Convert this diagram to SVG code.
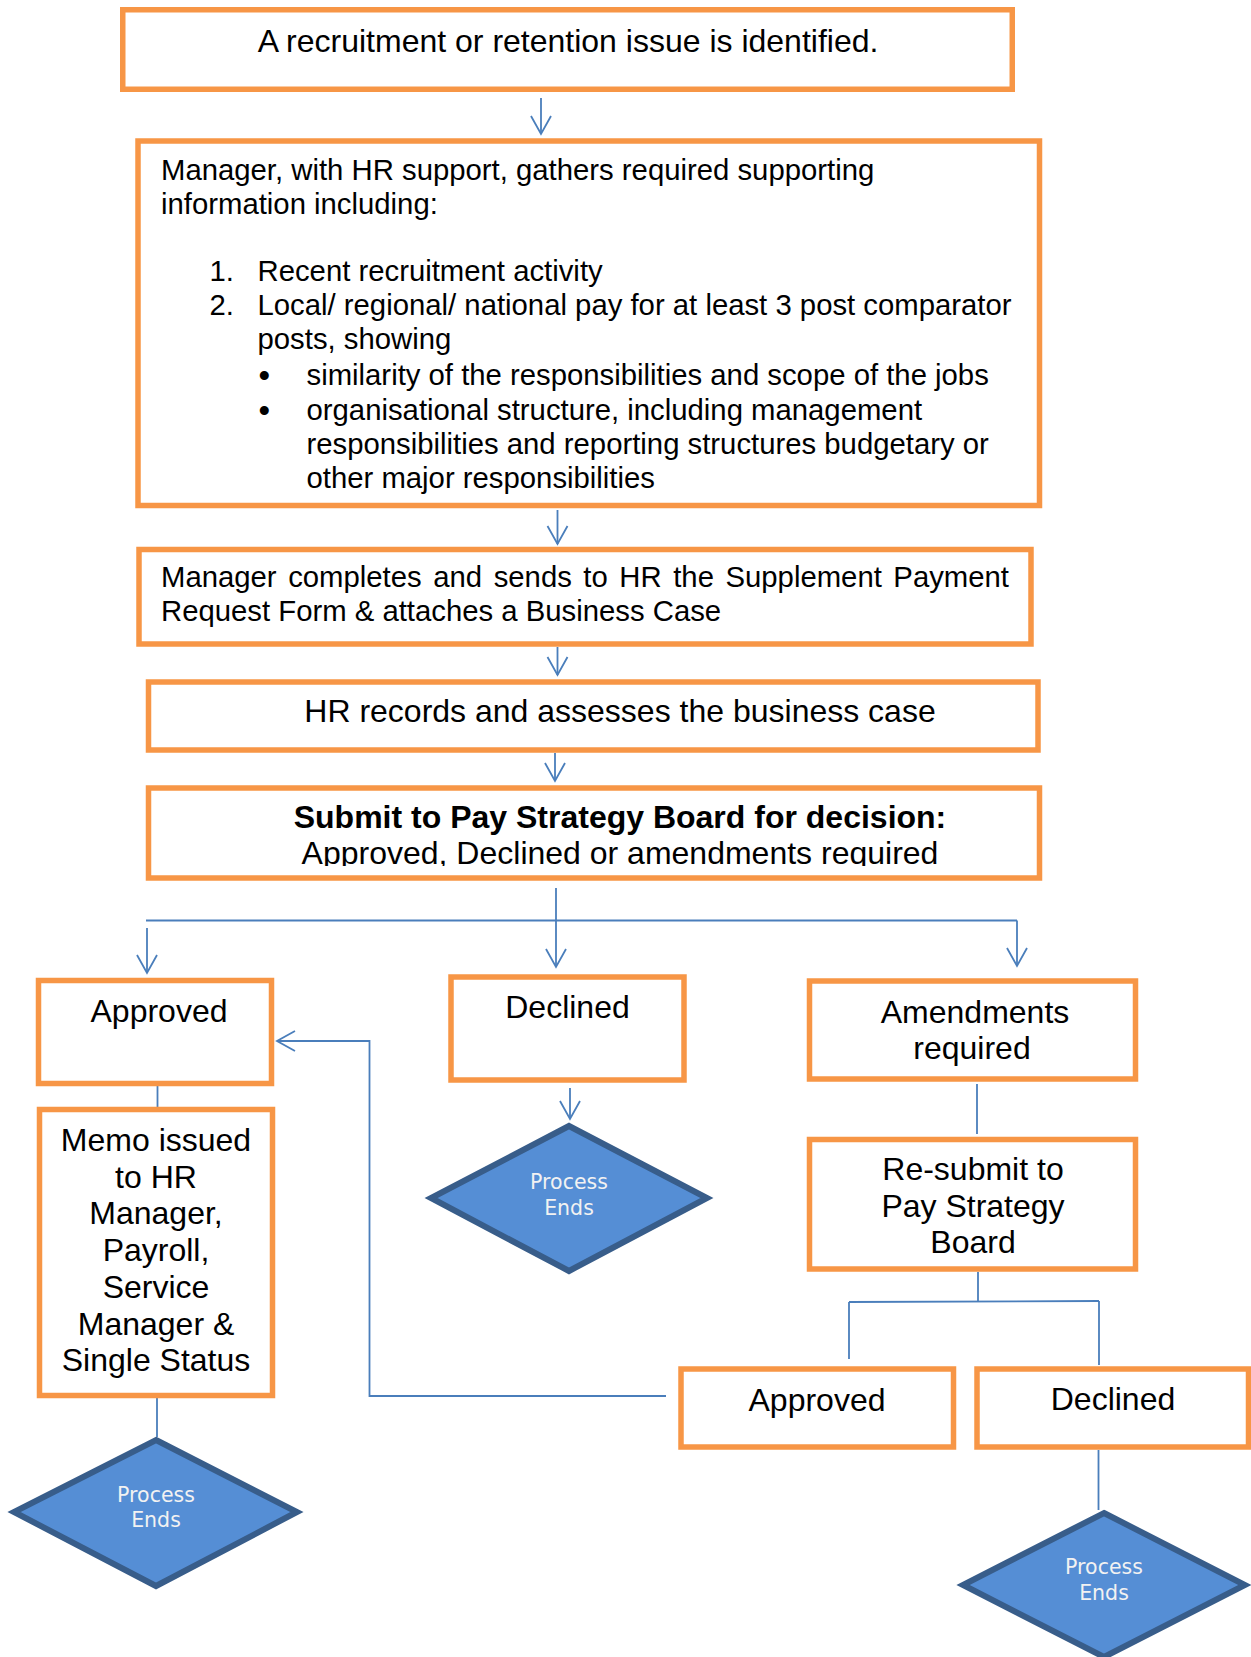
<svg xmlns="http://www.w3.org/2000/svg" width="1251" height="1657" viewBox="0 0 1251 1657">
  <style>
    .box { fill: #FFFFFF; stroke: #F79646; stroke-width: 5.5; }
    .end { fill: #558ED5; stroke: #385D8A; stroke-width: 6; stroke-linejoin: miter; }
    .t { font-family: "Liberation Sans", Arial, sans-serif; font-size: 32px; fill: #000000; }
    .s { font-family: "Liberation Sans", Arial, sans-serif; font-size: 29.3px; fill: #000000; }
    .bul { font-family: "Liberation Sans", Arial, sans-serif; font-size: 33px; fill: #000000; }
    .c { text-anchor: middle; }
    .b { font-weight: bold; }
    .et { font-family: "DejaVu Sans", Verdana, sans-serif; font-size: 20.5px; fill: #F2F2F2; text-anchor: middle; }
    .ln { fill: none; stroke: #4A7EBB; stroke-width: 1.8; }
  </style>
  <defs>
    <marker id="arr" markerUnits="userSpaceOnUse" markerWidth="24" markerHeight="24" viewBox="-20 -12 24 24" refX="0" refY="0" orient="auto">
      <path d="M-18,-10 L0,0 L-18,10" fill="none" stroke="#4A7EBB" stroke-width="1.8"/>
    </marker>
    <clipPath id="clip5">
      <rect x="150" y="790" width="888" height="76"/>
    </clipPath>
  </defs>

  <rect x="0" y="0" width="1251" height="1657" fill="#FFFFFF"/>

  <!-- connectors -->
  <g id="connectors">
    <line class="ln" x1="541" y1="98" x2="541" y2="134" marker-end="url(#arr)"/>
    <line class="ln" x1="557.5" y1="510" x2="557.5" y2="544" marker-end="url(#arr)"/>
    <line class="ln" x1="557.5" y1="647" x2="557.5" y2="675" marker-end="url(#arr)"/>
    <line class="ln" x1="555" y1="753" x2="555" y2="781" marker-end="url(#arr)"/>
    <line class="ln" x1="556" y1="888" x2="556" y2="967" marker-end="url(#arr)"/>
    <line class="ln" x1="146" y1="920.5" x2="1017" y2="920.5"/>
    <line class="ln" x1="147" y1="928" x2="147" y2="973" marker-end="url(#arr)"/>
    <line class="ln" x1="1017" y1="920.5" x2="1017" y2="966" marker-end="url(#arr)"/>
    <line class="ln" x1="570" y1="1088" x2="570" y2="1119" marker-end="url(#arr)"/>
    <line class="ln" x1="157.5" y1="1086" x2="157.5" y2="1109"/>
    <line class="ln" x1="157" y1="1398" x2="157" y2="1437"/>
    <line class="ln" x1="977" y1="1084" x2="977" y2="1134"/>
    <line class="ln" x1="978" y1="1272" x2="978" y2="1302"/>
    <line class="ln" x1="849" y1="1302" x2="1099" y2="1301"/>
    <line class="ln" x1="849" y1="1302" x2="849" y2="1359"/>
    <line class="ln" x1="1099" y1="1301" x2="1099" y2="1365"/>
    <line class="ln" x1="1098.5" y1="1450" x2="1098.5" y2="1510"/>
    <polyline class="ln" points="666,1396 369.5,1396 369.5,1041 277,1041" marker-end="url(#arr)"/>
  </g>

  <!-- step 1 -->
  <g id="issue">
    <rect class="box" x="122.75" y="9.75" width="889.5" height="79.5"/>
    <text class="t c" x="568" y="52">A recruitment or retention issue is identified.</text>
  </g>

  <!-- step 2 -->
  <g id="gather">
    <rect class="box" x="138" y="141" width="901.5" height="364.5"/>
    <text class="s" x="161" y="180">Manager, with HR support, gathers required supporting</text>
    <text class="s" x="161" y="214">information including:</text>
    <text class="s" x="209.5" y="281">1.</text>
    <text class="s" x="257.5" y="281">Recent recruitment activity</text>
    <text class="s" x="209.5" y="315">2.</text>
    <text class="s" x="257.5" y="315">Local/ regional/ national pay for at least 3 post comparator</text>
    <text class="s" x="257.5" y="349">posts, showing</text>
    <text class="bul" x="258.5" y="386.5">•</text>
    <text class="s" x="306.5" y="385">similarity of the responsibilities and scope of the jobs</text>
    <text class="bul" x="258.5" y="421.5">•</text>
    <text class="s" x="306.5" y="420">organisational structure, including management</text>
    <text class="s" x="306.5" y="454">responsibilities and reporting structures budgetary or</text>
    <text class="s" x="306.5" y="488">other major responsibilities</text>
  </g>

  <!-- step 3 -->
  <g id="request">
    <rect class="box" x="139" y="549.5" width="892" height="94.5"/>
    <text class="s" x="161" y="587" word-spacing="3.4">Manager completes and sends to HR the Supplement Payment</text>
    <text class="s" x="161" y="620.5">Request Form &amp; attaches a Business Case</text>
  </g>

  <!-- step 4 -->
  <g id="assess">
    <rect class="box" x="148.5" y="682" width="889.5" height="68"/>
    <text class="t c" x="620" y="721.5">HR records and assesses the business case</text>
  </g>

  <!-- step 5 -->
  <g id="submit">
    <rect class="box" x="148.5" y="788" width="891" height="90"/>
    <text class="t c b" x="620" y="828">Submit to Pay Strategy Board for decision:</text>
    <text class="t c" x="620" y="863.5" clip-path="url(#clip5)">Approved, Declined or amendments required</text>
  </g>

  <!-- decision outcomes -->
  <g id="approved">
    <rect class="box" x="38.5" y="980.5" width="233" height="103"/>
    <text class="t c" x="159" y="1022">Approved</text>
  </g>

  <g id="declined">
    <rect class="box" x="451" y="977" width="233" height="103"/>
    <text class="t c" x="567.5" y="1018">Declined</text>
  </g>

  <g id="amendments">
    <rect class="box" x="809.5" y="981" width="326" height="98"/>
    <text class="t c" x="975" y="1023">Amendments</text>
    <text class="t c" x="972" y="1059">required</text>
  </g>

  <g id="memo">
    <rect class="box" x="39.5" y="1109.5" width="233" height="286"/>
    <text class="t c" x="156" y="1151">Memo issued</text>
    <text class="t c" x="156" y="1187.5">to HR</text>
    <text class="t c" x="156" y="1224">Manager,</text>
    <text class="t c" x="156" y="1261">Payroll,</text>
    <text class="t c" x="156" y="1298">Service</text>
    <text class="t c" x="156" y="1335">Manager &amp;</text>
    <text class="t c" x="156" y="1371">Single Status</text>
  </g>

  <g id="resubmit">
    <rect class="box" x="809.5" y="1139.5" width="326" height="129.5"/>
    <text class="t c" x="973" y="1180">Re-submit to</text>
    <text class="t c" x="973" y="1217">Pay Strategy</text>
    <text class="t c" x="973" y="1253">Board</text>
  </g>

  <g id="approved-2">
    <rect class="box" x="681" y="1369" width="272.5" height="78"/>
    <text class="t c" x="817" y="1411">Approved</text>
  </g>

  <g id="declined-2">
    <rect class="box" x="977" y="1369" width="271.5" height="78"/>
    <text class="t c" x="1113" y="1410">Declined</text>
  </g>

  <!-- end points -->
  <g id="end-declined">
    <polygon class="end" points="569,1126 707,1198 569,1271 431,1198"/>
    <text class="et" x="569" y="1189">Process</text>
    <text class="et" x="569" y="1215">Ends</text>
  </g>

  <g id="end-approved">
    <polygon class="end" points="156,1440 297,1512 156,1586 14,1512"/>
    <text class="et" x="156" y="1502">Process</text>
    <text class="et" x="156" y="1527">Ends</text>
  </g>

  <g id="end-declined-2">
    <polygon class="end" points="1104,1513 1245,1585 1104,1657 963,1585"/>
    <text class="et" x="1104" y="1574">Process</text>
    <text class="et" x="1104" y="1600">Ends</text>
  </g>
</svg>
